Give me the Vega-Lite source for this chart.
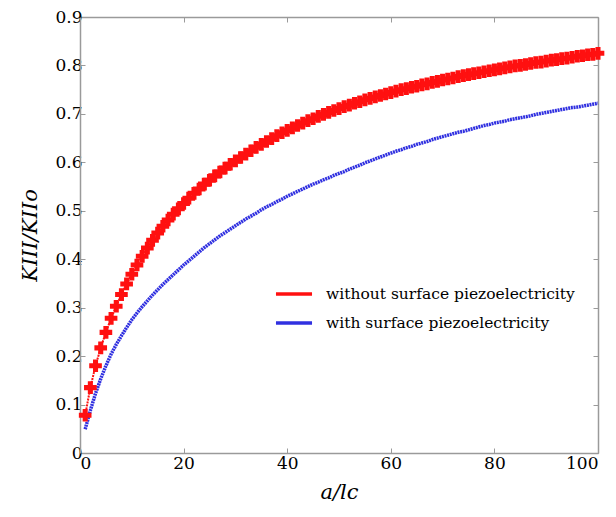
{
  "$schema": "https://vega.github.io/schema/vega-lite/v6.json",
  "width": 518,
  "height": 436,
  "autosize": {"type": "none"},
  "padding": {"left": 80, "top": 17, "right": 18, "bottom": 64},
  "background": "white",
  "config": {
    "view": {"stroke": null},
    "font": "DejaVu Serif",
    "axis": {
      "grid": false,
      "domainColor": "#9a9a9a",
      "domainWidth": 1.5,
      "tickColor": "#9a9a9a",
      "tickWidth": 1,
      "tickSize": -5,
      "labelFont": "DejaVu Serif",
      "labelFontSize": 17,
      "labelColor": "#000000",
      "titleFont": "DejaVu Serif",
      "titleFontSize": 21,
      "titleFontStyle": "italic",
      "titleFontWeight": "normal",
      "titleColor": "#000000"
    },
    "legend": {
      "labelFont": "DejaVu Serif"
    }
  },
  "data": {
    "values": [
      {"x":1,"r":0.078,"b":0.049},{"x":2,"r":0.135,"b":0.088},{"x":3,"r":0.180,"b":0.123},{"x":4,"r":0.217,"b":0.153},{"x":5,"r":0.249,"b":0.180},
      {"x":6,"r":0.278,"b":0.204},{"x":7,"r":0.303,"b":0.224},{"x":8,"r":0.327,"b":0.242},{"x":9,"r":0.349,"b":0.259},{"x":10,"r":0.369,"b":0.275},
      {"x":11,"r":0.388,"b":0.289},{"x":12,"r":0.406,"b":0.302},{"x":13,"r":0.423,"b":0.314},{"x":14,"r":0.439,"b":0.326},{"x":15,"r":0.454,"b":0.337},
      {"x":16,"r":0.468,"b":0.348},{"x":17,"r":0.481,"b":0.358},{"x":18,"r":0.493,"b":0.368},{"x":19,"r":0.504,"b":0.378},{"x":20,"r":0.515,"b":0.388},
      {"x":21,"r":0.526,"b":0.397},{"x":22,"r":0.536,"b":0.406},{"x":23,"r":0.545,"b":0.415},{"x":24,"r":0.555,"b":0.424},{"x":25,"r":0.563,"b":0.432},
      {"x":26,"r":0.572,"b":0.440},{"x":27,"r":0.580,"b":0.448},{"x":28,"r":0.588,"b":0.455},{"x":29,"r":0.596,"b":0.462},{"x":30,"r":0.603,"b":0.469},
      {"x":31,"r":0.610,"b":0.476},{"x":32,"r":0.617,"b":0.483},{"x":33,"r":0.624,"b":0.489},{"x":34,"r":0.631,"b":0.495},{"x":35,"r":0.637,"b":0.502},
      {"x":36,"r":0.643,"b":0.508},{"x":37,"r":0.649,"b":0.513},{"x":38,"r":0.655,"b":0.519},{"x":39,"r":0.661,"b":0.524},{"x":40,"r":0.666,"b":0.530},
      {"x":41,"r":0.671,"b":0.535},{"x":42,"r":0.676,"b":0.540},{"x":43,"r":0.681,"b":0.545},{"x":44,"r":0.686,"b":0.550},{"x":45,"r":0.690,"b":0.555},
      {"x":46,"r":0.695,"b":0.559},{"x":47,"r":0.699,"b":0.564},{"x":48,"r":0.703,"b":0.568},{"x":49,"r":0.707,"b":0.573},{"x":50,"r":0.711,"b":0.577},
      {"x":51,"r":0.715,"b":0.581},{"x":52,"r":0.718,"b":0.586},{"x":53,"r":0.722,"b":0.590},{"x":54,"r":0.725,"b":0.594},{"x":55,"r":0.729,"b":0.599},
      {"x":56,"r":0.732,"b":0.603},{"x":57,"r":0.735,"b":0.607},{"x":58,"r":0.738,"b":0.611},{"x":59,"r":0.741,"b":0.615},{"x":60,"r":0.744,"b":0.619},
      {"x":61,"r":0.747,"b":0.623},{"x":62,"r":0.750,"b":0.626},{"x":63,"r":0.752,"b":0.630},{"x":64,"r":0.755,"b":0.633},{"x":65,"r":0.757,"b":0.637},
      {"x":66,"r":0.760,"b":0.640},{"x":67,"r":0.762,"b":0.643},{"x":68,"r":0.765,"b":0.647},{"x":69,"r":0.767,"b":0.650},{"x":70,"r":0.770,"b":0.653},
      {"x":71,"r":0.772,"b":0.656},{"x":72,"r":0.774,"b":0.659},{"x":73,"r":0.777,"b":0.662},{"x":74,"r":0.779,"b":0.664},{"x":75,"r":0.781,"b":0.667},
      {"x":76,"r":0.783,"b":0.670},{"x":77,"r":0.785,"b":0.673},{"x":78,"r":0.787,"b":0.676},{"x":79,"r":0.789,"b":0.678},{"x":80,"r":0.791,"b":0.681},
      {"x":81,"r":0.793,"b":0.683},{"x":82,"r":0.795,"b":0.685},{"x":83,"r":0.797,"b":0.688},{"x":84,"r":0.799,"b":0.690},{"x":85,"r":0.800,"b":0.692},
      {"x":86,"r":0.802,"b":0.694},{"x":87,"r":0.804,"b":0.696},{"x":88,"r":0.806,"b":0.699},{"x":89,"r":0.807,"b":0.701},{"x":90,"r":0.809,"b":0.703},
      {"x":91,"r":0.811,"b":0.705},{"x":92,"r":0.812,"b":0.707},{"x":93,"r":0.814,"b":0.709},{"x":94,"r":0.815,"b":0.711},{"x":95,"r":0.817,"b":0.713},
      {"x":96,"r":0.819,"b":0.714},{"x":97,"r":0.820,"b":0.716},{"x":98,"r":0.822,"b":0.718},{"x":99,"r":0.823,"b":0.720},{"x":100,"r":0.825,"b":0.722}
    ]
  },
  "resolve": {"axis": {"x": "independent", "y": "independent"}},
  "layer": [
    {
      "mark": {"type": "line", "strokeWidth": 3.5, "strokeDash": [2, 0.7]},
      "encoding": {
        "x": {"field": "x", "type": "quantitative", "scale": {"domain": [0, 100], "nice": false},
              "axis": {"values": [0, 20, 40, 60, 80, 100], "title": "a/lc", "labelPadding": 7, "titlePadding": 10}},
        "y": {"field": "b", "type": "quantitative", "scale": {"domain": [0, 0.9], "nice": false},
              "axis": {"values": [0, 0.1, 0.2, 0.3, 0.4, 0.5, 0.6, 0.7, 0.8, 0.9], "format": ".1~f", "title": "KIII/KIIo", "labelPadding": 3, "titlePadding": 14}},
        "color": {"datum": "with surface piezoelectricity", "type": "nominal",
                  "scale": {"domain": ["without surface piezoelectricity", "with surface piezoelectricity"], "range": ["#ff1010", "#3030e0"]},
                  "legend": {"title": null, "orient": "none", "legendX": 194, "legendY": 257, "symbolType": "stroke", "symbolSize": 1300, "symbolStrokeWidth": 3.5, "labelFontSize": 15.5, "labelColor": "#000000", "labelOffset": 12, "labelLimit": 0, "rowPadding": -8}}
      }
    },
    {
      "mark": {"type": "line", "strokeWidth": 2, "strokeDash": [2, 1]},
      "encoding": {
        "x": {"field": "x", "type": "quantitative", "scale": {"domain": [0, 100], "nice": false},
              "axis": {"orient": "top", "values": [0, 20, 40, 60, 80, 100], "labels": false, "title": null}},
        "y": {"field": "r", "type": "quantitative", "scale": {"domain": [0, 0.9], "nice": false},
              "axis": {"orient": "right", "values": [0, 0.1, 0.2, 0.3, 0.4, 0.5, 0.6, 0.7, 0.8, 0.9], "labels": false, "title": null}},
        "color": {"datum": "without surface piezoelectricity", "type": "nominal"}
      }
    },
    {
      "mark": {"type": "point", "shape": "cross", "filled": true, "size": 160, "opacity": 1},
      "encoding": {
        "x": {"field": "x", "type": "quantitative", "axis": null},
        "y": {"field": "r", "type": "quantitative", "axis": null},
        "color": {"datum": "without surface piezoelectricity", "type": "nominal"}
      }
    }
  ]
}
